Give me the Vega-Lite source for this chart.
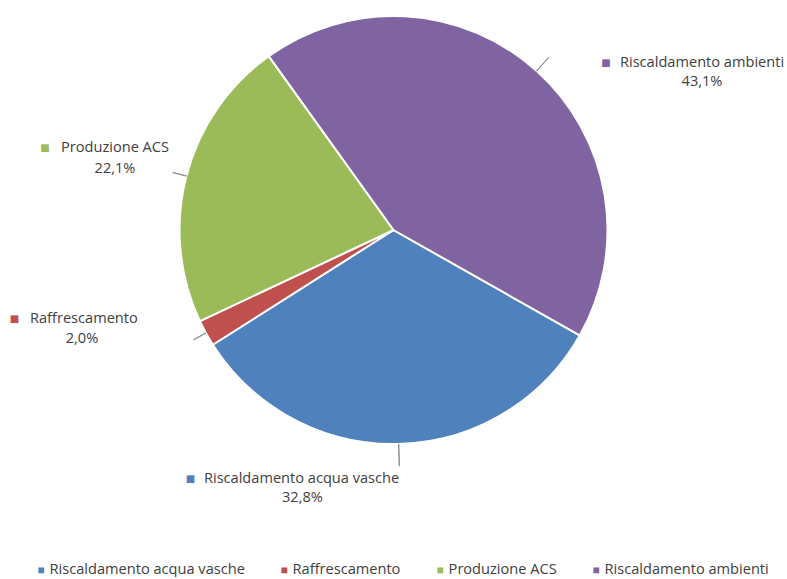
{
  "$schema": "https://vega.github.io/schema/vega-lite/v6.json",
  "width": 787,
  "height": 460,
  "padding": 0,
  "background": "white",
  "config": {
    "view": {"stroke": null},
    "font": "Open Sans",
    "text": {"font": "Open Sans", "fontSize": 14.6, "color": "#404040", "baseline": "middle"}
  },
  "data": {
    "values": [
      {"voce": "Riscaldamento acqua vasche", "valore": 32.8},
      {"voce": "Raffrescamento", "valore": 2.0},
      {"voce": "Produzione ACS", "valore": 22.1},
      {"voce": "Riscaldamento ambienti", "valore": 43.1}
    ]
  },
  "transform": [
    {"stack": "valore", "groupby": [], "as": ["v0", "v1"]},
    {"calculate": "(datum.v0 + datum.v1) / 2", "as": "mid"},
    {"calculate": "datum.mid + 0.03", "as": "mid2"},
    {"calculate": "replace(format(datum.valore, '.1f'), '.', ',') + '%'", "as": "pct"}
  ],
  "layer": [
    {
      "mark": {"type": "arc", "outerRadius": 214, "stroke": "white", "strokeWidth": 2},
      "encoding": {
        "theta": {"field": "v0", "type": "quantitative", "scale": {"domain": [0, 100], "range": [2.0857, 8.3689]}},
        "theta2": {"field": "v1"},
        "color": {
          "field": "voce",
          "type": "nominal",
          "scale": {
            "domain": ["Riscaldamento acqua vasche", "Raffrescamento", "Produzione ACS", "Riscaldamento ambienti"],
            "range": ["#4F81BD", "#C0504D", "#9BBB59", "#8064A2"]
          },
          "legend": {
            "title": null,
            "orient": "none",
            "legendX": 34,
            "legendY": 563,
            "direction": "horizontal",
            "symbolType": "square",
            "symbolSize": 34,
            "symbolStrokeWidth": 0,
            "labelFont": "Open Sans",
            "labelFontSize": 14.6,
            "labelColor": "#404040",
            "labelLimit": 400,
            "labelOffset": 1,
            "columnPadding": 32
          }
        }
      }
    },
    {
      "transform": [{"filter": "datum.voce === 'Riscaldamento ambienti'"}],
      "encoding": {
        "theta": {"field": "mid", "type": "quantitative", "stack": null, "scale": {"domain": [0, 100], "range": [2.0857, 8.3689]}}
      },
      "layer": [
        {"mark": {"type": "arc", "radius": 232, "radius2": 214, "color": "#8c8c8c", "stroke": "#8c8c8c", "strokeWidth": 0.8}, "encoding": {"theta2": {"field": "mid2"}}},
        {"mark": {"type": "text", "radius": 214, "dx": 69.5, "dy": -7.8, "align": "center", "fontSize": 10, "color": "#8064A2", "font": "DejaVu Sans"}, "encoding": {"text": {"value": "■"}}},
        {"mark": {"type": "text", "radius": 214, "dx": 83.5, "dy": -7.8, "align": "left"}, "encoding": {"text": {"field": "voce"}}},
        {"mark": {"type": "text", "radius": 214, "dx": 165.5, "dy": 11.2, "align": "center"}, "encoding": {"text": {"field": "pct"}}}
      ]
    },
    {
      "transform": [{"filter": "datum.voce === 'Riscaldamento acqua vasche'"}],
      "encoding": {
        "theta": {"field": "mid", "type": "quantitative", "stack": null, "scale": {"domain": [0, 100], "range": [2.0857, 8.3689]}}
      },
      "layer": [
        {"mark": {"type": "arc", "radius": 236, "radius2": 214, "color": "#8c8c8c", "stroke": "#8c8c8c", "strokeWidth": 0.8}, "encoding": {"theta2": {"field": "mid2"}}},
        {"mark": {"type": "text", "radius": 214, "dx": -208.5, "dy": 35, "align": "center", "fontSize": 10, "color": "#4F81BD", "font": "DejaVu Sans"}, "encoding": {"text": {"value": "■"}}},
        {"mark": {"type": "text", "radius": 214, "dx": -195, "dy": 35, "align": "left"}, "encoding": {"text": {"field": "voce"}}},
        {"mark": {"type": "text", "radius": 214, "dx": -96.5, "dy": 54, "align": "center"}, "encoding": {"text": {"field": "pct"}}}
      ]
    },
    {
      "transform": [{"filter": "datum.voce === 'Produzione ACS'"}],
      "encoding": {
        "theta": {"field": "mid", "type": "quantitative", "stack": null, "scale": {"domain": [0, 100], "range": [2.0857, 8.3689]}}
      },
      "layer": [
        {"mark": {"type": "arc", "radius": 228, "radius2": 214, "color": "#8c8c8c", "stroke": "#8c8c8c", "strokeWidth": 0.8}, "encoding": {"theta2": {"field": "mid2"}}},
        {"mark": {"type": "text", "radius": 214, "dx": -141.4, "dy": -28, "align": "center", "fontSize": 10, "color": "#9BBB59", "font": "DejaVu Sans"}, "encoding": {"text": {"value": "■"}}},
        {"mark": {"type": "text", "radius": 214, "dx": -125.4, "dy": -28, "align": "left"}, "encoding": {"text": {"field": "voce"}}},
        {"mark": {"type": "text", "radius": 214, "dx": -71.4, "dy": -7, "align": "center"}, "encoding": {"text": {"field": "pct"}}}
      ]
    },
    {
      "transform": [{"filter": "datum.voce === 'Raffrescamento'"}],
      "encoding": {
        "theta": {"field": "mid", "type": "quantitative", "stack": null, "scale": {"domain": [0, 100], "range": [2.0857, 8.3689]}}
      },
      "layer": [
        {"mark": {"type": "arc", "radius": 228, "radius2": 214, "color": "#8c8c8c", "stroke": "#8c8c8c", "strokeWidth": 0.8}, "encoding": {"theta2": {"field": "mid2"}}},
        {"mark": {"type": "text", "radius": 214, "dx": -191.5, "dy": -14.2, "align": "center", "fontSize": 10, "color": "#C0504D", "font": "DejaVu Sans"}, "encoding": {"text": {"value": "■"}}},
        {"mark": {"type": "text", "radius": 214, "dx": -176, "dy": -14.2, "align": "left"}, "encoding": {"text": {"field": "voce"}}},
        {"mark": {"type": "text", "radius": 214, "dx": -124, "dy": 5.8, "align": "center"}, "encoding": {"text": {"field": "pct"}}}
      ]
    }
  ]
}
